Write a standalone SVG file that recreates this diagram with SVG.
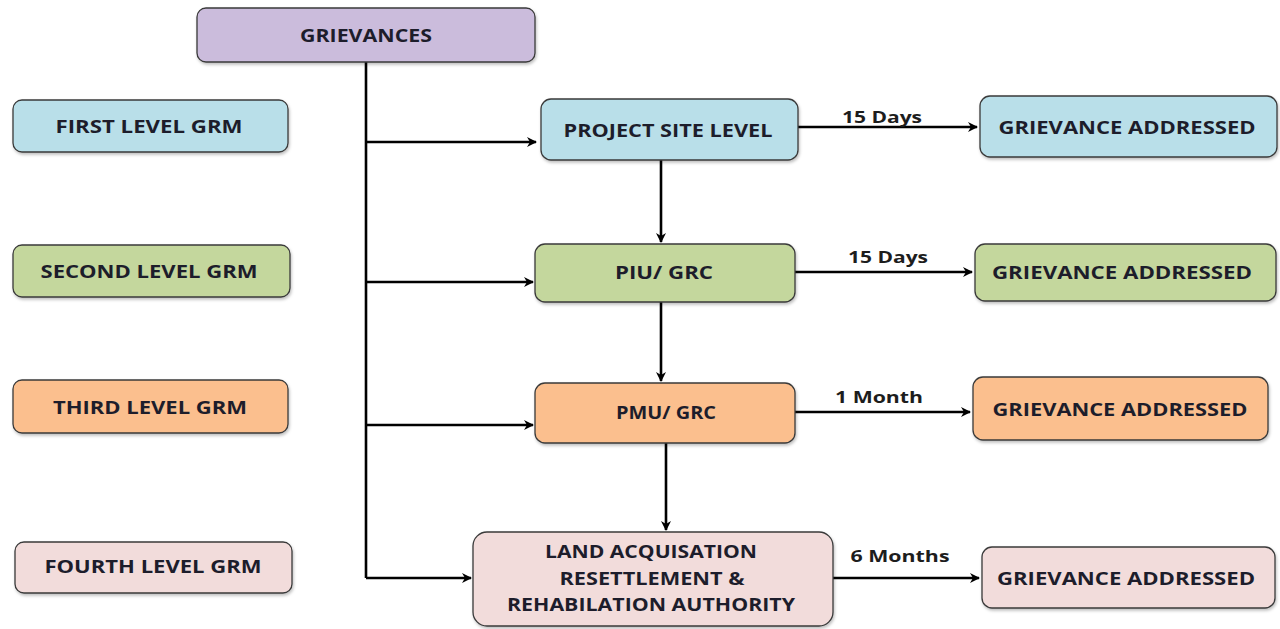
<svg xmlns="http://www.w3.org/2000/svg" width="1280" height="629" viewBox="0 0 1280 629">
<style>
.box{stroke:#3a3a3a;stroke-width:1.3}
.t{font-family:"Open Sans","Liberation Sans",sans-serif;font-weight:bold;font-size:18px;fill:#1d1d2b;text-anchor:middle;dominant-baseline:central}
.lbl{font-family:"Open Sans","Liberation Sans",sans-serif;font-weight:bold;font-size:16px;fill:#1d1d1d;text-anchor:middle}
.c{stroke:#000;stroke-width:2.6;fill:none}
.blue{fill:#b9dfe9}.green{fill:#c4d79d}.orange{fill:#fbbf8e}.pink{fill:#f2dcdb}.purple{fill:#cbbcdc}
</style>
<defs>
<marker id="ah" markerWidth="12" markerHeight="12" refX="10" refY="6" orient="auto" markerUnits="userSpaceOnUse">
<path d="M1,1 L11,6 L1,11 L4,6 Z" fill="#000"/>
</marker>
<filter id="sh" x="-5%" y="-10%" width="110%" height="130%">
<feDropShadow dx="1" dy="2" stdDeviation="1.5" flood-color="#000" flood-opacity="0.25"/>
</filter>
</defs>
<rect width="1280" height="629" fill="#fff"/>
<g id="connectors">
<path class="c" d="M366,62 V578"/>
<path class="c" d="M366,142 H536" marker-end="url(#ah)"/>
<path class="c" d="M366,282 H533" marker-end="url(#ah)"/>
<path class="c" d="M366,425 H533" marker-end="url(#ah)"/>
<path class="c" d="M366,578 H471" marker-end="url(#ah)"/>
<path class="c" d="M661,160 V242" marker-end="url(#ah)"/>
<path class="c" d="M661,302 V381" marker-end="url(#ah)"/>
<path class="c" d="M666,443 V530" marker-end="url(#ah)"/>
<path class="c" d="M798,127 H977" marker-end="url(#ah)"/>
<path class="c" d="M795,272 H972" marker-end="url(#ah)"/>
<path class="c" d="M795,412 H970" marker-end="url(#ah)"/>
<path class="c" d="M833,578 H979" marker-end="url(#ah)"/>
<text class="lbl" x="882" y="123" textLength="80" lengthAdjust="spacingAndGlyphs">15 Days</text>
<text class="lbl" x="888" y="263" textLength="80" lengthAdjust="spacingAndGlyphs">15 Days</text>
<text class="lbl" x="879" y="403" textLength="88" lengthAdjust="spacingAndGlyphs">1 Month</text>
<text class="lbl" x="900" y="562" textLength="99" lengthAdjust="spacingAndGlyphs">6 Months</text>
</g>
<g id="grievances"><rect class="box purple" filter="url(#sh)" x="197" y="8" width="338" height="54" rx="9"/><text class="t" x="366" y="35" textLength="132" lengthAdjust="spacingAndGlyphs">GRIEVANCES</text></g>
<g id="first-level"><rect class="box blue" filter="url(#sh)" x="13" y="100" width="275" height="52" rx="9"/><text class="t" x="149" y="126" textLength="187" lengthAdjust="spacingAndGlyphs">FIRST LEVEL GRM</text></g>
<g id="second-level"><rect class="box green" filter="url(#sh)" x="13" y="245" width="277" height="52" rx="9"/><text class="t" x="149" y="271" textLength="217" lengthAdjust="spacingAndGlyphs">SECOND LEVEL GRM</text></g>
<g id="third-level"><rect class="box orange" filter="url(#sh)" x="13" y="380" width="275" height="53" rx="9"/><text class="t" x="150" y="407" textLength="194" lengthAdjust="spacingAndGlyphs">THIRD LEVEL GRM</text></g>
<g id="fourth-level"><rect class="box pink" filter="url(#sh)" x="15" y="542" width="277" height="51" rx="9"/><text class="t" x="153" y="566" textLength="217" lengthAdjust="spacingAndGlyphs">FOURTH LEVEL GRM</text></g>
<g id="project-site"><rect class="box blue" filter="url(#sh)" x="541" y="99" width="257" height="61" rx="10"/><text class="t" x="668" y="130" textLength="209" lengthAdjust="spacingAndGlyphs">PROJECT SITE LEVEL</text></g>
<g id="piu-grc"><rect class="box green" filter="url(#sh)" x="535" y="244" width="260" height="58" rx="10"/><text class="t" x="664" y="272" textLength="98" lengthAdjust="spacingAndGlyphs">PIU/ GRC</text></g>
<g id="pmu-grc"><rect class="box orange" filter="url(#sh)" x="535" y="383" width="260" height="60" rx="10"/><text class="t" x="666" y="412" textLength="100" lengthAdjust="spacingAndGlyphs">PMU/ GRC</text></g>
<g id="land-authority"><rect class="box pink" filter="url(#sh)" x="473" y="532" width="360" height="94" rx="14"/>
<text class="t" x="651" y="551" textLength="212" lengthAdjust="spacingAndGlyphs">LAND ACQUISATION</text>
<text class="t" x="652" y="578" textLength="185" lengthAdjust="spacingAndGlyphs">RESETTLEMENT  &amp;</text>
<text class="t" x="651" y="604" textLength="288" lengthAdjust="spacingAndGlyphs">REHABILATION AUTHORITY</text></g>
<g id="addressed-1"><rect class="box blue" filter="url(#sh)" x="980" y="96" width="297" height="61" rx="10"/><text class="t" x="1127" y="127" textLength="257" lengthAdjust="spacingAndGlyphs">GRIEVANCE ADDRESSED</text></g>
<g id="addressed-2"><rect class="box green" filter="url(#sh)" x="975" y="244" width="301" height="57" rx="10"/><text class="t" x="1122" y="272" textLength="260" lengthAdjust="spacingAndGlyphs">GRIEVANCE ADDRESSED</text></g>
<g id="addressed-3"><rect class="box orange" filter="url(#sh)" x="973" y="377" width="295" height="63" rx="10"/><text class="t" x="1120" y="409" textLength="255" lengthAdjust="spacingAndGlyphs">GRIEVANCE ADDRESSED</text></g>
<g id="addressed-4"><rect class="box pink" filter="url(#sh)" x="982" y="547" width="293" height="61" rx="10"/><text class="t" x="1126" y="578" textLength="258" lengthAdjust="spacingAndGlyphs">GRIEVANCE ADDRESSED</text></g>
</svg>
